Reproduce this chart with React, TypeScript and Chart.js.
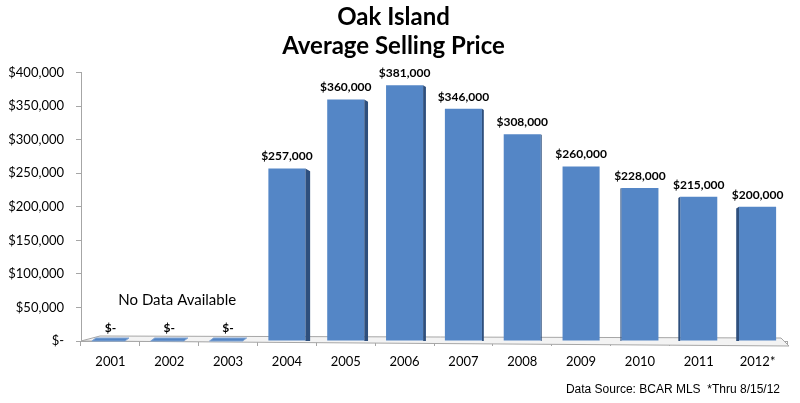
import React, { useEffect, useRef } from "react";
import { Chart, registerables } from "chart.js";

Chart.register(...registerables);

const years = ["2001", "2002", "2003", "2004", "2005", "2006", "2007", "2008", "2009", "2010", "2011", "2012*"];
const prices = [0, 0, 0, 257000, 360000, 381000, 346000, 308000, 260000, 228000, 215000, 200000];
const titleLines = ["Oak Island", "Average Selling Price"];
const noDataNote = "No Data Available";
const sourceNote = "Data Source: BCAR MLS  *Thru 8/15/12";

const BAR = "#5486C6";
const SIDE = "#2E4F7D";

const fmt = (v: number) => (v === 0 ? "$-" : "$" + v.toLocaleString("en-US"));

const decorPlugin = {
  id: "decor",
  beforeDatasetsDraw(chart: any) {
    const ctx = chart.ctx;
    const area = chart.chartArea;
    const base = area.bottom;
    ctx.save();
    ctx.beginPath();
    ctx.moveTo(area.left, base);
    ctx.lineTo(area.left + 19, base - 5);
    ctx.lineTo(area.right - 6, base - 3);
    ctx.lineTo(area.right + 2, base + 5);
    ctx.lineTo(area.left, base);
    ctx.closePath();
    ctx.fillStyle = "#f3f3f3";
    ctx.fill();
    ctx.strokeStyle = "#a6a6a6";
    ctx.lineWidth = 1;
    ctx.stroke();
    ctx.restore();
  },
  afterDatasetsDraw(chart: any) {
    const ctx = chart.ctx;
    const meta = chart.getDatasetMeta(0);
    const data = chart.data.datasets[0].data as number[];
    const base = chart.chartArea.bottom;
    const vp = 580;
    ctx.save();
    meta.data.forEach((bar: any, i: number) => {
      const v = data[i];
      const cx = bar.x;
      const w = bar.width / 2;
      const top = bar.y;
      if (v === 0) {
        ctx.beginPath();
        ctx.moveTo(cx - w, base);
        ctx.lineTo(cx + w - 4, base);
        ctx.lineTo(cx + w, base - 3);
        ctx.lineTo(cx - w + 4, base - 3);
        ctx.closePath();
        ctx.fillStyle = BAR;
        ctx.fill();
        ctx.strokeStyle = "#7fa3d3";
        ctx.stroke();
      } else {
        const d = (vp - cx) * 0.016;
        if (Math.abs(d) >= 0.8) {
          ctx.beginPath();
          if (d > 0) {
            const r = cx + w;
            ctx.moveTo(r, top);
            ctx.lineTo(r + d, top + d * 0.6);
            ctx.lineTo(r + d, base);
            ctx.lineTo(r, base);
          } else {
            const l = cx - w;
            ctx.moveTo(l, top);
            ctx.lineTo(l + d, top - d * 0.6);
            ctx.lineTo(l + d, base);
            ctx.lineTo(l, base);
          }
          ctx.closePath();
          ctx.fillStyle = SIDE;
          ctx.fill();
        }
      }
      ctx.fillStyle = "#000";
      ctx.font = "bold 12px Lato";
      ctx.textAlign = "center";
      ctx.textBaseline = "middle";
      const ly = v === 0 ? base - 13 : top - 12;
      ctx.fillText(fmt(v), cx, ly);
    });
    ctx.font = "15px Lato";
    ctx.textAlign = "center";
    ctx.fillStyle = "#000";
    const m0 = meta.data[0];
    const m2 = meta.data[2];
    ctx.fillText(noDataNote, (m0.x + m2.x) / 2 + 8, base - 41);
    ctx.font = "12px 'Liberation Sans'";
    ctx.textAlign = "right";
    ctx.fillText(sourceNote, 780, 390);
    ctx.restore();
  },
};

export default function App() {
  const ref = useRef<HTMLCanvasElement | null>(null);
  useEffect(() => {
    if (!ref.current) return;
    const chart = new Chart(ref.current, {
      type: "bar",
      data: {
        labels: years,
        datasets: [
          {
            data: prices,
            backgroundColor: BAR,
            borderWidth: 0,
            categoryPercentage: 1,
            barPercentage: 0.63,
          },
        ],
      },
      options: {
        animation: false,
        responsive: false,
        layout: { padding: { left: 0, right: 13, top: 0, bottom: 0 } },
        plugins: {
          legend: { display: false },
          tooltip: { enabled: false },
          title: {
            display: true,
            text: titleLines,
            color: "#000",
            font: { family: "Lato", size: 24, weight: "bold", lineHeight: 1.2 },
            padding: { top: 3, bottom: 12 },
          },
        },
        scales: {
          x: {
            afterFit: (s: any) => {
              s.height = 62;
            },
            grid: {
              display: true,
              drawOnChartArea: false,
              drawTicks: true,
              tickLength: 5,
              color: "#a6a6a6",
              offset: true,
            },
            border: { display: true, color: "#a6a6a6" },
            ticks: { color: "#000", font: { family: "Lato", size: 13 }, padding: 8 },
          },
          y: {
            min: 0,
            max: 400000,
            afterFit: (s: any) => {
              s.width = 81;
            },
            grid: {
              drawOnChartArea: false,
              drawTicks: true,
              tickLength: 5,
              color: "#a6a6a6",
            },
            border: { display: true, color: "#a6a6a6" },
            ticks: {
              stepSize: 50000,
              color: "#000",
              padding: 12,
              font: { family: "Lato", size: 13 },
              callback: (v: any) => fmt(Number(v)),
            },
          },
        },
      },
      plugins: [decorPlugin],
    });
    return () => chart.destroy();
  }, []);
  return (
    <div style={{ position: "fixed", left: 0, top: 0, width: 800, height: 403, background: "#fff" }}>
      <canvas ref={ref} width={800} height={403} style={{ width: 800, height: 403 }} />
    </div>
  );
}
